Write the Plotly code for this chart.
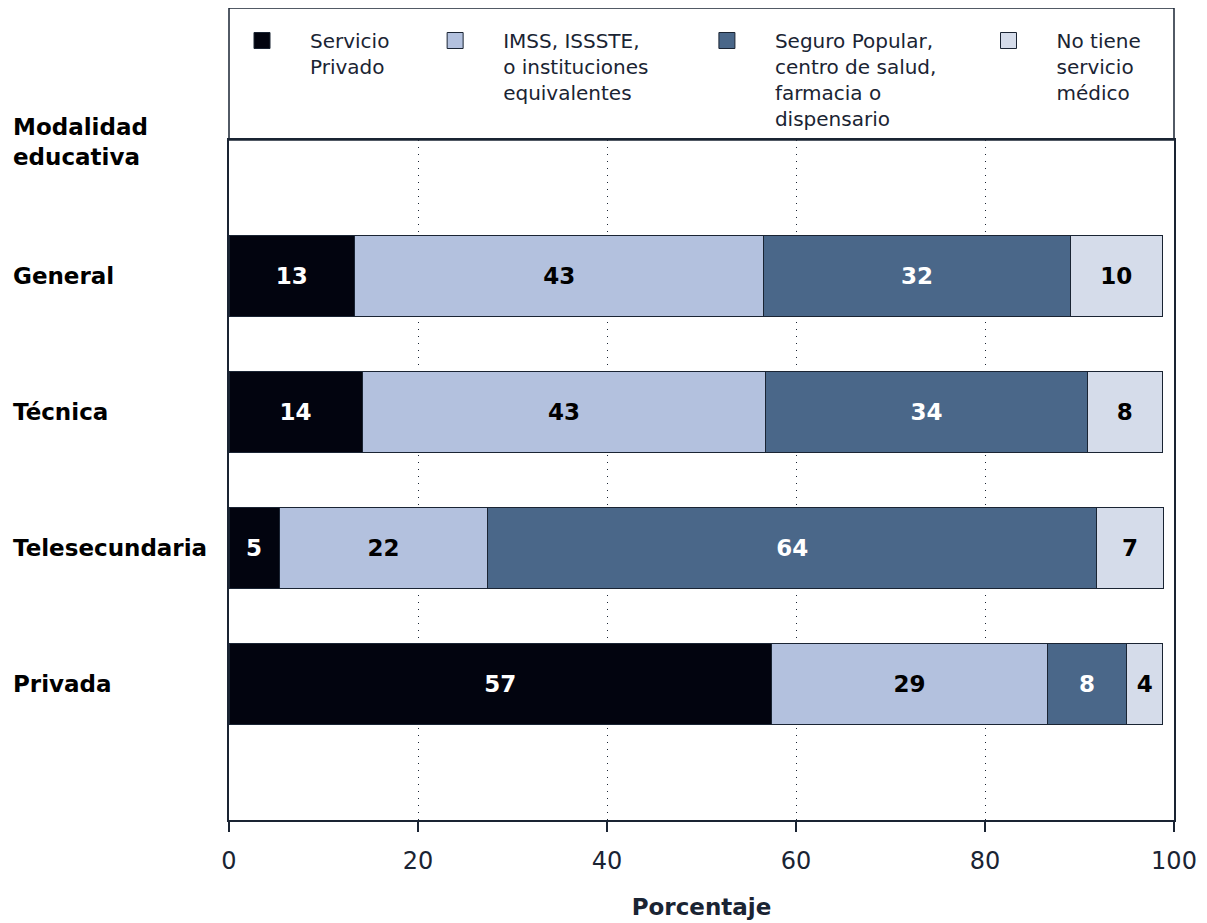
import plotly.graph_objects as go

categories = ["General", "Técnica", "Telesecundaria", "Privada"]
NB = "\u00a0"
series_names = ["Servicio" + NB * 2 + "<br>Privado",
                "IMSS, ISSSTE,<br>o instituciones" + NB * 4 + "<br>equivalentes",
                "Seguro Popular,<br>centro de salud," + NB * 3 + "<br>farmacia o<br>dispensario",
                "No tiene<br>servicio<br>médico"]
privado = [13.3, 14.1, 5.3, 57.4]
imss = [43.3, 42.7, 22.1, 29.2]
seguro = [32.4, 34.0, 64.4, 8.4]
no_tiene = [9.8, 8.0, 7.1, 3.8]
x_ticks = [0, 20, 40, 60, 80, 100]

colors = ["#02040f", "#b3c1de", "#4a6789", "#d5dcea"]
text_colors = ["white", "black", "white", "black"]
series = [privado, imss, seguro, no_tiene]
FONT = "DejaVu Sans"
DARK = "#1a2433"

fig = go.Figure()
for name, vals, col, tcol in zip(series_names, series, colors, text_colors):
    fig.add_trace(go.Bar(
        y=categories, x=vals, orientation="h", name=name,
        marker=dict(color=col, line=dict(color=DARK, width=1)),
        width=0.6, texttemplate="%{x:.0f}", textposition="inside",
        insidetextanchor="middle", textangle=0,
        insidetextfont=dict(family=FONT, size=23, color=tcol, weight="bold"),
        showlegend=False, legendgroup=name, hoverinfo="skip"))
    fig.add_trace(go.Scatter(
        x=[None], y=[None], mode="markers", name=name, legendgroup=name,
        marker=dict(symbol="square", size=16, color=col, line=dict(color=DARK, width=1))))

# page positions (the page body adds an 8px margin)
top_px, bot_px, left_px, right_px = 140, 820, 229, 1174
h = bot_px - top_px
w = right_px - left_px
def py(p):
    return (bot_px - p) / h
def px(p):
    return (p - left_px) / w

fig.update_layout(
    width=1199, height=915,
    margin=dict(l=221, r=33, t=132, b=103, autoexpand=False),
    plot_bgcolor="white", paper_bgcolor="white",
    font=dict(family=FONT, color=DARK),
    barmode="stack",
    legend=dict(orientation="h", x=px(214), xanchor="left", y=py(21), yanchor="top",
                font=dict(family=FONT, size=20, color=DARK), valign="top",
                itemwidth=86,
                bgcolor="rgba(0,0,0,0)", itemclick=False, itemdoubleclick=False,
                traceorder="normal"),
    xaxis=dict(range=[0, 100], tickvals=x_ticks, ticks="outside", ticklen=10, tickwidth=1.5,
               tickcolor=DARK, tickfont=dict(size=24, family=FONT, color=DARK),
               ticklabelstandoff=8, automargin=False,
               showline=True, mirror=True, linecolor=DARK, linewidth=1.5,
               showgrid=True, gridcolor=DARK, griddash="1px,6px", gridwidth=1.2,
               zeroline=False, fixedrange=True,
               title=dict(text="Porcentaje", font=dict(size=23, family=FONT, color=DARK, weight="bold"),
                          standoff=25)),
    yaxis=dict(type="category", categoryorder="array", categoryarray=categories,
               range=[4, -1], showticklabels=False, ticks="", automargin=False,
               showline=True, mirror=True, linecolor=DARK, linewidth=1.5,
               showgrid=False, zeroline=False, fixedrange=True),
)

fig.add_shape(type="rect", xref="paper", yref="paper", x0=0, x1=1, y0=1, y1=py(8),
              line=dict(color=DARK, width=1.5), fillcolor="rgba(0,0,0,0)", layer="above")

lx = px(11)
fig.add_annotation(text="Modalidad<br>educativa", xref="paper", yref="paper", x=lx, y=py(142),
                   xanchor="left", yanchor="middle", align="left", showarrow=False,
                   font=dict(size=23, family=FONT, color="black", weight="bold"))
for c in categories:
    fig.add_annotation(text=c, xref="paper", yref="y", x=lx, y=c, xanchor="left", yanchor="middle",
                       align="left", showarrow=False,
                       font=dict(size=23, family=FONT, color="black", weight="bold"))

fig.write_html("out.html")
